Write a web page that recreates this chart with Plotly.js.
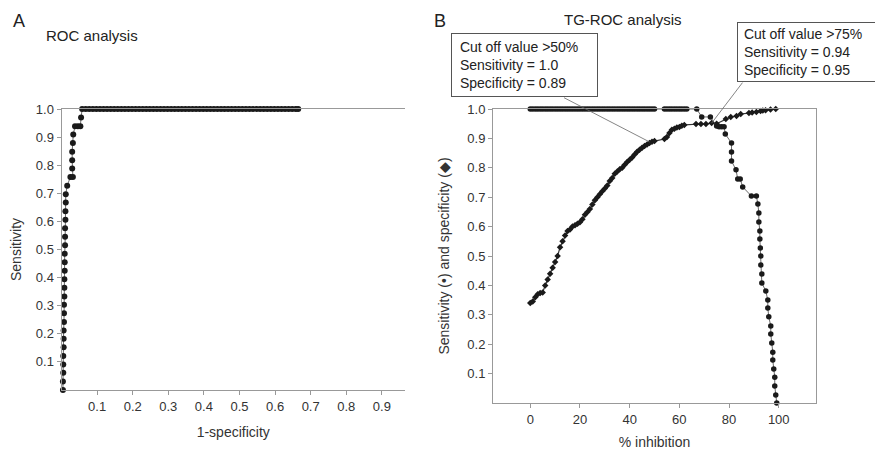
<!DOCTYPE html>
<html>
<head>
<meta charset="utf-8">
<script src="https://cdn.plot.ly/plotly-3.0.1.min.js"></script>
<style>html,body{margin:0;padding:0;background:#fff;}#chart{width:875px;height:450px;}</style>
</head>
<body>
<div id="chart"></div>
<script>
// ---- Panel A: ROC analysis ----
const rocFpr = [0.004,0.004,0.005,0.005,0.005,0.006,0.006,0.006,0.007,0.007,0.007,0.008,0.008,0.008,0.009,0.009,0.009,0.010,0.010,0.010,0.011,0.011,0.012,0.012,0.016,0.025,0.032,0.030,0.030,0.030,0.032,0.033,0.038,0.046,0.053,0.055,
  0.058,0.068,0.078,0.088,0.098,0.108,0.118,0.128,0.138,0.148,0.158,0.168,0.178,0.188,0.198,0.208,0.218,0.228,0.238,0.248,0.258,0.268,0.278,0.288,0.298,0.308,0.318,0.328,0.338,0.348,0.358,0.368,0.378,0.388,0.398,0.408,0.418,0.428,0.438,0.448,0.458,0.468,0.478,0.488,0.498,0.508,0.518,0.528,0.538,0.548,0.558,0.568,0.578,0.588,0.598,0.608,0.618,0.628,0.638,0.648,0.658,0.665];
const rocSens = [0,0.030,0.061,0.091,0.121,0.152,0.182,0.212,0.242,0.273,0.303,0.333,0.364,0.394,0.424,0.455,0.485,0.515,0.545,0.576,0.606,0.636,0.667,0.697,0.727,0.758,0.758,0.788,0.818,0.848,0.879,0.909,0.939,0.939,0.939,0.970,
  1,1,1,1,1,1,1,1,1,1,1,1,1,1,1,1,1,1,1,1,1,1,1,1,1,1,1,1,1,1,1,1,1,1,1,1,1,1,1,1,1,1,1,1,1,1,1,1,1,1,1,1,1,1,1,1,1,1,1,1,1,1];

// ---- Panel B: TG-ROC analysis ----
const inhSens = [0,1,2,3,4,5,6,7,8,9,10,11,12,13,14,15,16,17,18,19,20,21,22,23,24,25,26,27,28,29,30,31,32,33,34,35,36,37,38,39,40,41,42,43,44,45,46,47,48,49,50,
  54,55,56,57,58,59,60,61,62,63,67,69,72.5,75,76,77,78,78.5,81,81,81,82.8,83.5,84.5,85.5,89,91,91.6,92,92,92.4,92.4,92.6,92.8,92.8,93.2,93.2,94.8,95.6,95.6,96,96.8,96.8,97.2,97.6,97.6,98,98.4,98.4,98.8,99.2];
const sensVals = [1,1,1,1,1,1,1,1,1,1,1,1,1,1,1,1,1,1,1,1,1,1,1,1,1,1,1,1,1,1,1,1,1,1,1,1,1,1,1,1,1,1,1,1,1,1,1,1,1,1,1,
  1,1,1,1,1,1,1,1,1,1,1,0.973,0.973,0.942,0.94,0.94,0.94,0.915,0.884,0.854,0.823,0.793,0.762,0.762,0.735,0.704,0.704,0.677,0.646,0.616,0.585,0.558,0.527,0.5,0.469,0.439,0.408,0.381,0.350,0.323,0.293,0.262,0.235,0.204,0.173,0.146,0.116,0.088,0.058,0.027,0];
const inhSpec = [0,1,2,3,4,5,6,7,8,9,10,11,12,13,14,15,16,17,18,19,20,21,22,23,24,25,26,27,28,29,30,31,32,33,34,35,36,37,38,39,40,41,42,43,44,45,46,47,48,49,50,
  54,55,56,57,58,59,60,61,62,66.7,68.7,70.7,73,75,78.7,80.7,83,84.7,88,89.3,91,92.7,93.6,94.7,96.7,98.8];
const specVals = [0.34,0.345,0.36,0.37,0.374,0.376,0.40,0.42,0.44,0.46,0.48,0.50,0.53,0.55,0.57,0.585,0.59,0.60,0.605,0.61,0.615,0.625,0.64,0.65,0.66,0.675,0.69,0.70,0.71,0.72,0.73,0.74,0.755,0.765,0.78,0.787,0.795,0.80,0.81,0.82,0.827,0.835,0.845,0.855,0.861,0.868,0.874,0.879,0.884,0.889,0.891,
  0.898,0.905,0.918,0.929,0.933,0.937,0.939,0.943,0.946,0.949,0.949,0.949,0.952,0.95,0.966,0.973,0.976,0.983,0.986,0.988,0.99,0.993,0.995,0.996,0.998,1.0];

const xTicksA = [0.1,0.2,0.3,0.4,0.5,0.6,0.7,0.8,0.9];
const yTicks = [0.1,0.2,0.3,0.4,0.5,0.6,0.7,0.8,0.9,1.0];
const xTicksB = [0,20,40,60,80,100];

const W = 875, H = 450;
const px = v => v / W;
const py = v => 1 - v / H;
const FONT = 'Liberation Sans, Arial, sans-serif';
const AX = '#999';
const TXT = '#333';

const traces = [
  {x: rocFpr, y: rocSens, xaxis: 'x', yaxis: 'y', mode: 'lines+markers', type: 'scatter',
   line: {color: '#444', width: 0.8}, marker: {symbol: 'circle', size: 6, color: '#1a1a1a'}, cliponaxis: false},
  {x: inhSpec, y: specVals, xaxis: 'x2', yaxis: 'y2', mode: 'lines+markers', type: 'scatter',
   line: {color: '#333', width: 1.2}, marker: {symbol: 'diamond', size: 5, color: '#1a1a1a'}, cliponaxis: false},
  {x: inhSens, y: sensVals, xaxis: 'x2', yaxis: 'y2', mode: 'lines+markers', type: 'scatter',
   line: {color: '#444', width: 0.8}, marker: {symbol: 'circle', size: 5.5, color: '#1a1a1a'}, cliponaxis: false}
];

const axCommon = {
  showgrid: false, zeroline: false, showline: true, linecolor: AX, linewidth: 1,
  ticks: 'outside', ticklen: 4, tickcolor: AX, tickfont: {family: FONT, size: 13, color: TXT},
  fixedrange: true
};

const layout = {
  width: W, height: H,
  margin: {l: 0, r: 0, t: 0, b: 0},
  paper_bgcolor: '#fff', plot_bgcolor: '#fff',
  showlegend: false,
  font: {family: FONT, color: TXT},
  xaxis: Object.assign({}, axCommon, {
    domain: [px(61.5), px(405)], range: [0, 0.965], tickvals: xTicksA, ticktext: xTicksA.map(v => v.toFixed(1)),
    mirror: true, anchor: 'y',
    title: {text: '1-specificity', font: {family: FONT, size: 14, color: TXT}, standoff: 14}
  }),
  yaxis: Object.assign({}, axCommon, {
    domain: [py(390), py(109)], range: [0, 1], tickvals: yTicks, ticktext: yTicks.map(v => v.toFixed(1)),
    anchor: 'x',
    title: {text: 'Sensitivity', font: {family: FONT, size: 14, color: TXT}, standoff: 10}
  }),
  xaxis2: Object.assign({}, axCommon, {
    domain: [px(493), px(816)], range: [-15, 115], tickvals: xTicksB, ticktext: xTicksB.map(String),
    mirror: true, anchor: 'y2',
    title: {text: '% inhibition', font: {family: FONT, size: 14, color: TXT}, standoff: 12}
  }),
  yaxis2: Object.assign({}, axCommon, {
    domain: [py(403), py(109)], range: [0, 1], tickvals: yTicks, ticktext: yTicks.map(v => v.toFixed(1)),
    mirror: true, anchor: 'x2',
    title: {text: 'Sensitivity (\u2022) and specificity (\u25C6)', font: {family: FONT, size: 14, color: TXT}, standoff: 14}
  }),
  annotations: [
    {xref: 'paper', yref: 'paper', x: px(11), y: py(21), xanchor: 'left', yanchor: 'middle', text: 'A', showarrow: false,
     font: {family: FONT, size: 18, color: '#222'}},
    {xref: 'paper', yref: 'paper', x: px(44), y: py(36), xanchor: 'left', yanchor: 'middle', text: 'ROC analysis', showarrow: false,
     font: {family: FONT, size: 15, color: '#222'}},
    {xref: 'paper', yref: 'paper', x: px(432), y: py(21), xanchor: 'left', yanchor: 'middle', text: 'B', showarrow: false,
     font: {family: FONT, size: 18, color: '#222'}},
    {xref: 'paper', yref: 'paper', x: px(623), y: py(20), xanchor: 'center', yanchor: 'middle', text: 'TG-ROC analysis', showarrow: false,
     font: {family: FONT, size: 15, color: '#222'}},
    {xref: 'paper', yref: 'paper', x: px(451), y: py(33), xanchor: 'left', yanchor: 'top', align: 'left', showarrow: false,
     width: 137, height: 54, valign: 'middle',
     text: ' Cut off value >50%<br> Sensitivity = 1.0<br> Specificity = 0.89',
     font: {family: FONT, size: 14, color: '#222'}, bordercolor: '#555', borderwidth: 1, borderpad: 4, bgcolor: '#fff'},
    {xref: 'paper', yref: 'paper', x: px(737), y: py(22), xanchor: 'left', yanchor: 'top', align: 'left', showarrow: false,
     width: 160, height: 54, valign: 'middle',
     text: ' Cut off value >75%<br> Sensitivity = 0.94<br> Specificity = 0.95',
     font: {family: FONT, size: 14, color: '#222'}, bordercolor: '#555', borderwidth: 1, borderpad: 2, bgcolor: '#fff'},
    {xref: 'x2', yref: 'y2', x: 48, y: 0.888, text: '', showarrow: true, arrowhead: 0, arrowwidth: 0.8, arrowcolor: '#666',
     ax: -87, ay: -45, standoff: 0},
    {xref: 'x2', yref: 'y2', x: 73, y: 0.952, text: '', showarrow: true, arrowhead: 0, arrowwidth: 0.8, arrowcolor: '#666',
     ax: 32, ay: -42, standoff: 0}
  ]
};

Plotly.newPlot('chart', traces, layout, {staticPlot: true, displayModeBar: false});
</script>
</body>
</html>
